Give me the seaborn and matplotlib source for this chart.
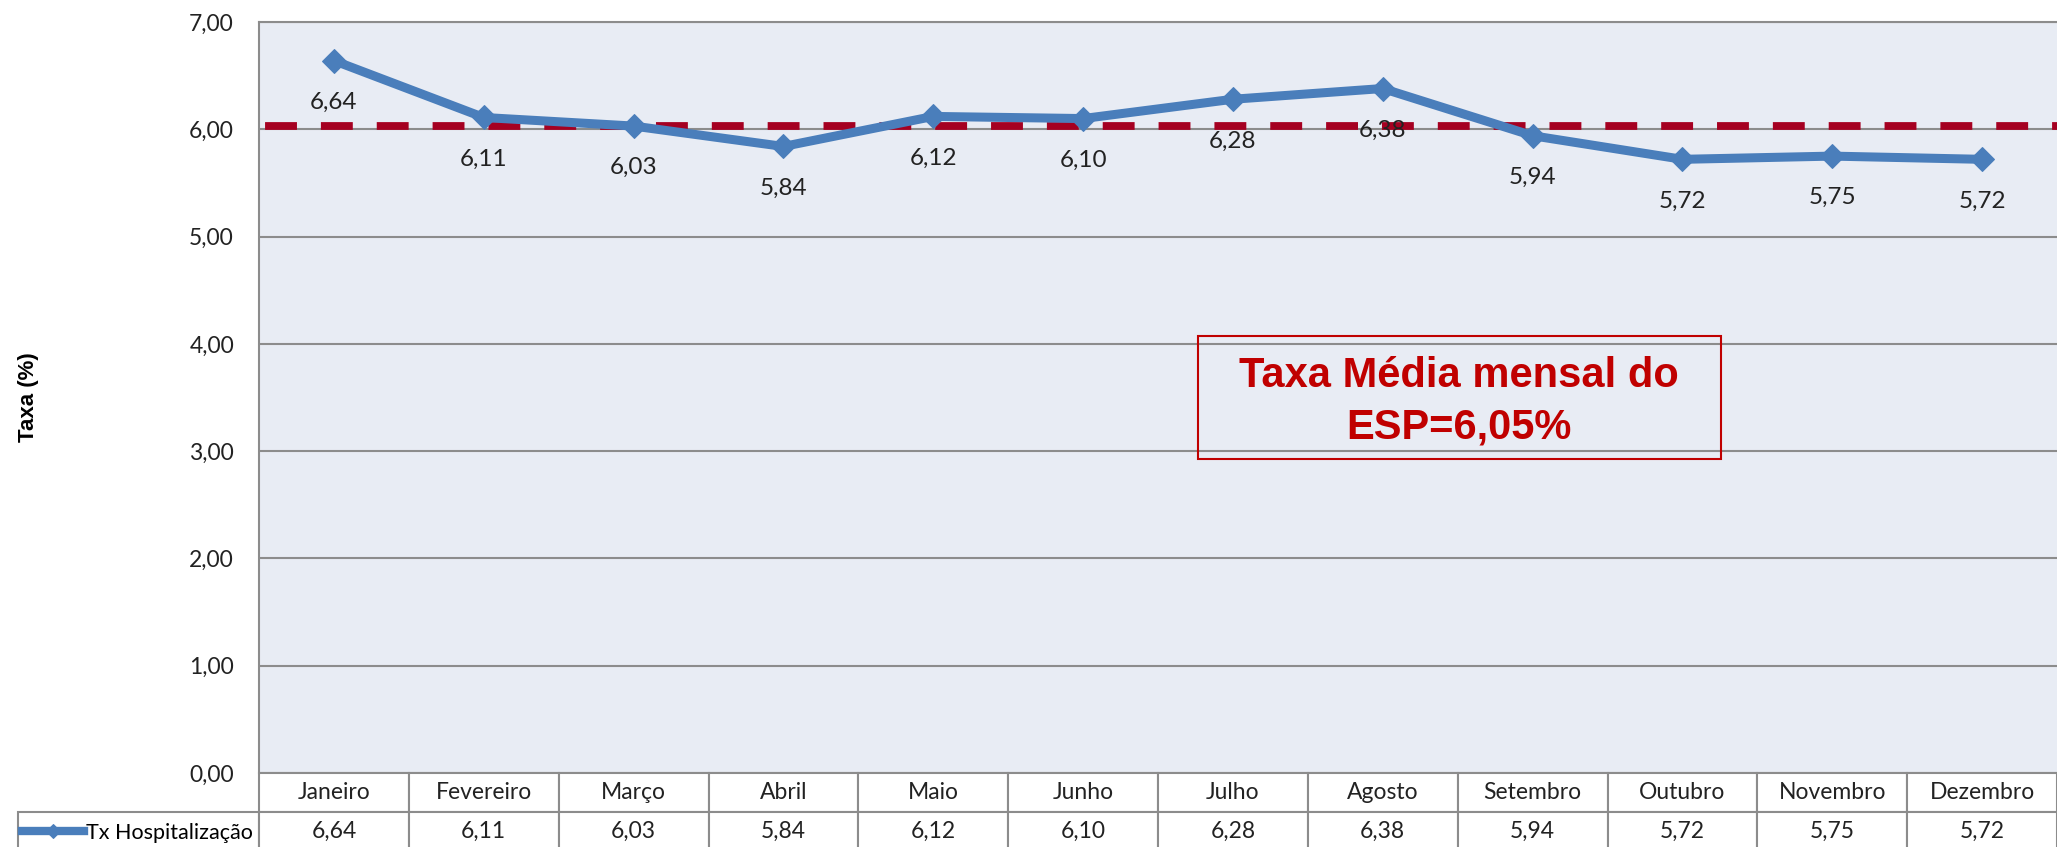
import pandas as pd
import matplotlib.pyplot as plt
import matplotlib.patches as mpatches
import seaborn as sns

meses = ["Janeiro", "Fevereiro", "Março", "Abril", "Maio", "Junho",
         "Julho", "Agosto", "Setembro", "Outubro", "Novembro", "Dezembro"]
taxa = [6.64, 6.11, 6.03, 5.84, 6.12, 6.10, 6.28, 6.38, 5.94, 5.72, 5.75, 5.72]
media = 6.03
serie = "Tx Hospitalização"
texto_media = "Taxa Média mensal do\nESP=6,05%"

AZUL = "#4A7EBB"
VERMELHO = "#A50021"
CINZA = "#8C8C8C"
FUNDO = "#E8ECF4"
TEXTO = "#222222"


def fmt(v):
    return f"{v:.2f}".replace(".", ",")


def generate_plot(df: pd.DataFrame):
    fig = plt.figure(figsize=(20.57, 8.47), dpi=100)
    # axes placed in pixels of the reference: left 259, top 22, bottom 773
    ax = fig.add_axes([259 / 2057, (847 - 773) / 847, (2057 - 259) / 2057, (773 - 22) / 847])
    ax.set_facecolor(FUNDO)

    sns.lineplot(data=df, x="mes", y="taxa", sort=False, ax=ax, color=AZUL,
                 linewidth=6.5, marker="D", markersize=12, markeredgecolor=AZUL,
                 label=serie, legend=False)

    ax.axhline(media, color=VERMELHO, linewidth=5.6, linestyle=(6.4, (4.1, 3.08)), zorder=1.5)

    ax.set_xlim(-0.5, len(meses) - 0.5)
    ax.set_ylim(0, 7)
    ax.set_yticks(range(0, 8))
    ax.set_yticklabels([fmt(v) for v in range(0, 8)], family="Lato", fontsize=16.5, color=TEXTO)
    ax.tick_params(axis="y", length=0, pad=18)
    ax.tick_params(axis="x", length=0, labelbottom=False)
    ax.set_xlabel("")
    ax.set_ylabel("Taxa (%)", family="Liberation Sans", fontweight="bold", fontsize=16, labelpad=108)
    ax.grid(axis="y", color=CINZA, linewidth=1.5)
    ax.set_axisbelow(True)
    for side in ["right", "bottom"]:
        ax.spines[side].set_visible(False)
    for side in ["top", "left"]:
        ax.spines[side].set_color(CINZA)
        ax.spines[side].set_linewidth(1.5)

    # data labels under each point
    for i, v in enumerate(df["taxa"]):
        ax.annotate(fmt(v), (i, v), xytext=(0, -30), textcoords="offset points",
                    ha="center", va="center", family="Lato", fontsize=17.5, color=TEXTO)

    # average box
    ax.add_patch(mpatches.Rectangle((5.77, 2.93), 3.49, 1.14, fill=False,
                                    edgecolor="#C00000", linewidth=1.5, zorder=3))
    ax.text(7.51, 3.46, texto_media, ha="center", va="center", color="#C00000",
            family="Liberation Sans", fontweight="bold", fontsize=30, linespacing=1.38, zorder=4)

    # data table below the axes
    w0 = 241 / 149.8
    rows = [[""] + meses, [""] + [fmt(v) for v in df["taxa"]]]
    tab = ax.table(cellText=rows, colWidths=[w0] + [1] * len(meses), cellLoc="center",
                   bbox=[-241 / 1798, -78 / 751, 1 + 241 / 1798, 78 / 751])
    tab.auto_set_font_size(False)
    for (r, c), cell in tab.get_celld().items():
        cell.set_edgecolor(CINZA)
        cell.set_linewidth(1.5)
        cell.get_text().set_fontfamily("Lato")
        cell.get_text().set_fontsize(16.5)
        cell.get_text().set_color(TEXTO)
        if r == 0 and c == 0:
            cell.visible_edges = ""

    leg = ax.legend(loc="center left", bbox_to_anchor=(-237 / 1798, -60 / 751),
                    frameon=False, borderpad=0, borderaxespad=0, handlelength=2.9,
                    handletextpad=0.05, prop={"family": "Lato", "size": 15.5})
    for h in leg.legend_handles:
        h.set_markersize(7)
        h.set_linewidth(6)
        h.set_color(AZUL)

    fig.savefig("out.png", dpi=100)
    plt.close(fig)
    return "out.png"


df = pd.DataFrame({"mes": meses, "taxa": taxa})
generate_plot(df)
